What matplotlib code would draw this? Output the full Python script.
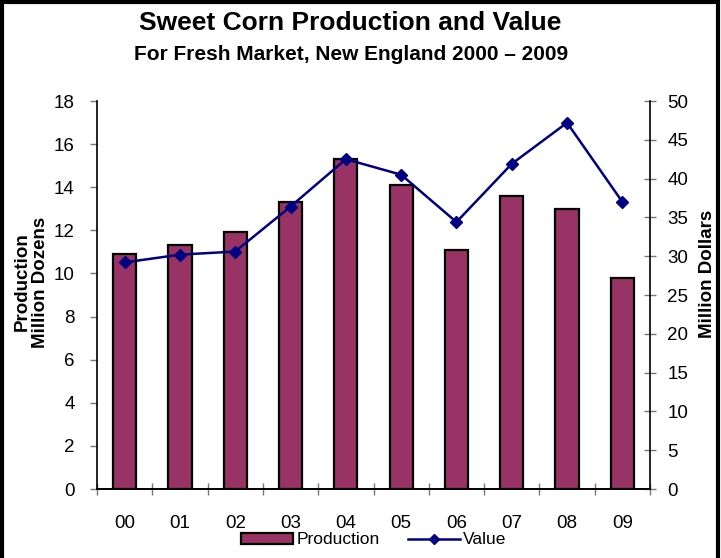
import matplotlib
matplotlib.use("Agg")
import matplotlib.pyplot as plt
from matplotlib.patches import Rectangle
from matplotlib.lines import Line2D
import numpy as np

plt.rcParams['font.family'] = ['Liberation Sans', 'DejaVu Sans']

years = ["00", "01", "02", "03", "04", "05", "06", "07", "08", "09"]
production = [10.9, 11.3, 11.9, 13.3, 15.3, 14.1, 11.1, 13.6, 13.0, 9.8]   # million dozens
value = [29.2, 30.2, 30.6, 36.4, 42.5, 40.5, 34.4, 41.9, 47.2, 37.0]       # million dollars

bar_color = "#993366"
line_color = "#000080"
tick_fs = 13.5

fig = plt.figure(figsize=(7.21, 5.58), dpi=100)
W, H = 721, 558
left, right, bottom, top = 97, 650, 489, 101
ax = fig.add_axes([left / W, 1 - bottom / H, (right - left) / W, (bottom - top) / H])
ax2 = ax.twinx()

x = np.arange(len(years))
ax.bar(x, production, width=0.42, color=bar_color, edgecolor="black", linewidth=1.6, zorder=2)
ax2.plot(x, value, color=line_color, linewidth=1.8, marker="D", markersize=6.5, zorder=3)

ax.set_xlim(-0.5, len(years) - 0.5)
ax.set_ylim(0, 18)
ax.set_yticks(np.arange(0, 19, 2))
ax2.set_ylim(0, 50)
ax2.set_yticks(np.arange(0, 51, 5))

# category boundary ticks on the x axis, labels centred under bars
ax.set_xticks(np.arange(-0.5, len(years), 1.0))
ax.set_xticklabels([])
ax.set_xticks(x, minor=True)
ax.set_xticklabels(years, minor=True, fontsize=tick_fs)
ax.tick_params(axis="x", which="major", direction="inout", length=9, color="#777777", width=1)
ax.tick_params(axis="x", which="minor", length=0, pad=19)
ax.tick_params(axis="y", direction="out", length=5, color="#777777", width=1, labelsize=tick_fs, pad=11)
ax2.tick_params(axis="y", direction="inout", length=9, color="#777777", width=1, labelsize=tick_fs, pad=8)

for a in (ax, ax2):
    a.spines["top"].set_visible(False)
    for s in ("left", "right", "bottom"):
        a.spines[s].set_linewidth(1.2)
ax2.spines["left"].set_visible(False)
ax.spines["right"].set_visible(False)

ax.set_ylabel("Production\nMillion Dozens", fontsize=13.5, fontweight="bold",
              linespacing=1.1, va="center", ha="center")
ax.yaxis.set_label_coords((31 - left) / (right - left), (bottom - 282) / (bottom - top))
ax2.set_ylabel("Million Dollars", fontsize=13.5, fontweight="bold", va="center", ha="center")
ax2.yaxis.set_label_coords((708 - left) / (right - left), (bottom - 274) / (bottom - top))

fig.text(350 / W, 1 - 23 / H, "Sweet Corn Production and Value", ha="center", va="center",
         fontsize=19, fontweight="bold")
fig.text(351 / W, 1 - 54 / H, "For Fresh Market, New England 2000 \u2013 2009", ha="center", va="center",
         fontsize=15, fontweight="bold")

handles = [Rectangle((0, 0), 1, 1, facecolor=bar_color, edgecolor="black", linewidth=1.6),
           Line2D([], [], color=line_color, linewidth=1.8, marker="D", markersize=5)]
fig.legend(handles, ["Production", "Value"], loc="center", bbox_to_anchor=(374 / W, 1 - 540 / H),
           ncol=2, frameon=False, fontsize=12.5, handlelength=3.0, handletextpad=0.2,
           columnspacing=1.6, handleheight=0.6, borderpad=0.1)

# outer frame of the chart
fig.add_artist(Rectangle((2 / W, -0.05), (W - 5) / W, 1.05 - 2 / H, transform=fig.transFigure,
                         fill=False, edgecolor="black", linewidth=3, clip_on=False))

fig.savefig("out.png", dpi=100)
